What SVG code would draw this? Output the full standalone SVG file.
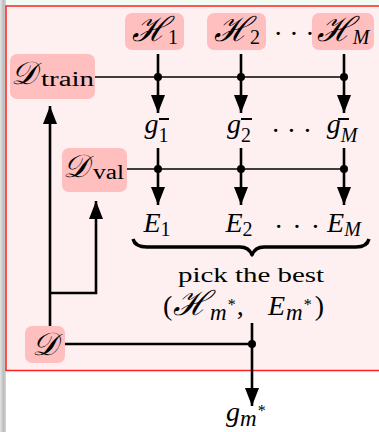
<svg xmlns="http://www.w3.org/2000/svg" width="379" height="432" viewBox="0 0 379 432">
<defs>
<linearGradient id="edge" x1="0" y1="0" x2="1" y2="0">
<stop offset="0" stop-color="#e4e4e4"/>
<stop offset="0.6" stop-color="#bcbcbc"/>
<stop offset="1" stop-color="#d6d6d6"/>
</linearGradient>
<marker id="arr" markerUnits="userSpaceOnUse" markerWidth="18" markerHeight="14" refX="18" refY="7" orient="auto">
<path d="M0,0 L18,7 L0,14 z" fill="#000"/>
</marker>
<style>
.box{fill:#ffbfbf;}
.m{font-family:"Liberation Serif",serif;font-style:italic;font-size:28px;fill:#000;}
.r{font-family:"Liberation Serif",serif;font-style:normal;}
.cal{font-family:"DejaVu Serif","Liberation Serif",serif;font-style:italic;font-size:34px;}
.cald{font-family:"DejaVu Serif","Liberation Serif",serif;font-style:italic;font-size:32px;}
.sub{font-size:20px;}
.subm{font-size:23px;}
.star{font-family:"Liberation Serif",serif;font-style:normal;font-size:16px;}
.dots{font-family:"Liberation Serif",serif;font-style:normal;font-size:28px;fill:#000;}
.thin{stroke:#000;stroke-width:1.4;fill:none;}
.thick{stroke:#000;stroke-width:2.6;fill:none;}
.dot{fill:#000;}
</style>
</defs>
<rect x="0" y="0" width="379" height="432" fill="#ffffff"/>
<rect x="0" y="0" width="379" height="6" fill="#f2fbf2"/>
<rect x="0" y="0" width="6" height="432" fill="url(#edge)"/>
<rect x="6" y="6" width="380" height="364.5" fill="#fef0f0" stroke="#ff2020" stroke-width="1.5"/>

<g id="connectors">
<path class="thin" d="M95,77 H344"/>
<path class="thin" d="M127,169 H344"/>
<path class="thick" d="M158,54 V113" marker-end="url(#arr)"/>
<path class="thick" d="M241,54 V113" marker-end="url(#arr)"/>
<path class="thick" d="M344,54 V113" marker-end="url(#arr)"/>
<path class="thick" d="M158,148 V205" marker-end="url(#arr)"/>
<path class="thick" d="M241,148 V205" marker-end="url(#arr)"/>
<path class="thick" d="M344,148 V205" marker-end="url(#arr)"/>
<circle class="dot" cx="158" cy="77" r="4"/>
<circle class="dot" cx="241" cy="77" r="4"/>
<circle class="dot" cx="344" cy="77" r="4"/>
<circle class="dot" cx="158" cy="169" r="4"/>
<circle class="dot" cx="241" cy="169" r="4"/>
<circle class="dot" cx="344" cy="169" r="4"/>
<path class="thick" d="M50,326 V106" marker-end="url(#arr)"/>
<path class="thick" d="M50,293 H96 V201" marker-end="url(#arr)"/>
<path class="thick" d="M65,344 H252"/>
<circle class="dot" cx="252" cy="344" r="4"/>
<path class="thick" d="M252,323 V406" marker-end="url(#arr)"/>
</g>

<g id="H1">
<rect class="box" x="125" y="13" width="59" height="37" rx="7"/>
<text class="m" x="155" y="41" text-anchor="middle"><tspan class="cal">ℋ</tspan><tspan class="r sub" dy="3">1</tspan></text>
</g>
<g id="H2">
<rect class="box" x="207" y="13" width="59" height="37" rx="7"/>
<text class="m" x="237" y="41" text-anchor="middle"><tspan class="cal">ℋ</tspan><tspan class="r sub" dy="3">2</tspan></text>
</g>
<g id="Hdots">
<text class="dots" x="273.5" y="43" letter-spacing="6.5">···</text>
</g>
<g id="HM">
<rect class="box" x="312" y="13" width="62" height="37" rx="7"/>
<text class="m" x="343" y="41" text-anchor="middle"><tspan class="cal">ℋ</tspan><tspan class="sub" dy="3">M</tspan></text>
</g>

<g id="Dtrain">
<rect class="box" x="10" y="54" width="85" height="45" rx="7"/>
<text class="m" x="11" y="84"><tspan class="cald">𝒟</tspan><tspan class="r sub" dy="2" x="41" textLength="53" lengthAdjust="spacingAndGlyphs">train</tspan></text>
</g>
<g id="Dval">
<rect class="box" x="62" y="148" width="65" height="44" rx="7"/>
<text class="m" x="63" y="177"><tspan class="cald">𝒟</tspan><tspan class="r sub" dy="2" x="93" textLength="31" lengthAdjust="spacingAndGlyphs">val</tspan></text>
</g>

<g id="g1">
<text class="m" x="156.5" y="133" text-anchor="middle">g<tspan class="r sub" dy="9">1</tspan></text>
<path d="M159,119 H169" stroke="#000" stroke-width="2"/>
</g>
<g id="g2">
<text class="m" x="239" y="133" text-anchor="middle">g<tspan class="r sub" dy="9">2</tspan></text>
<path d="M241,119 H252" stroke="#000" stroke-width="2"/>
</g>
<g id="gdots">
<text class="dots" x="271" y="140" letter-spacing="6.5">···</text>
</g>
<g id="gM">
<text class="m" x="342" y="133" text-anchor="middle">g<tspan class="sub" dy="9">M</tspan></text>
<path d="M338,119 H349" stroke="#000" stroke-width="2"/>
</g>

<g id="E1">
<text class="m" x="157" y="232" text-anchor="middle">E<tspan class="r sub" dy="4">1</tspan></text>
</g>
<g id="E2">
<text class="m" x="239" y="232" text-anchor="middle">E<tspan class="r sub" dy="4">2</tspan></text>
</g>
<g id="Edots">
<text class="dots" x="274" y="236" letter-spacing="9">···</text>
</g>
<g id="EM">
<text class="m" x="344" y="232" text-anchor="middle">E<tspan class="sub" dy="4">M</tspan></text>
</g>

<g id="brace">
<path d="M133,239 Q135,247 147,247 L240,247 Q249,247 252,255 Q255,247 264,247 L356,247 Q367,247 369,239" fill="none" stroke="#000" stroke-width="3.4" stroke-linejoin="round"/>
<text class="r" x="178" y="282" font-size="21" textLength="146" lengthAdjust="spacingAndGlyphs" fill="#000">pick the best</text>
<text class="m" y="315"><tspan class="r" x="163">(</tspan><tspan class="cal" x="173">ℋ</tspan><tspan class="subm" dy="5" dx="1">m</tspan><tspan class="star" dy="-10" dx="1">*</tspan><tspan class="r" dy="5" dx="1">,</tspan><tspan x="268">E</tspan><tspan class="subm" dy="5" dx="1">m</tspan><tspan class="star" dy="-10" dx="1">*</tspan><tspan class="r" dy="5" dx="3">)</tspan></text>
</g>

<g id="D">
<rect class="box" x="25" y="326" width="40" height="37" rx="7"/>
<text class="m" x="45" y="355" text-anchor="middle"><tspan class="cald">𝒟</tspan></text>
</g>

<g id="gstar">
<text class="m" x="226" y="421">g<tspan class="subm" dy="5">m</tspan><tspan class="star" dy="-10" dx="1">*</tspan></text>
</g>
</svg>
